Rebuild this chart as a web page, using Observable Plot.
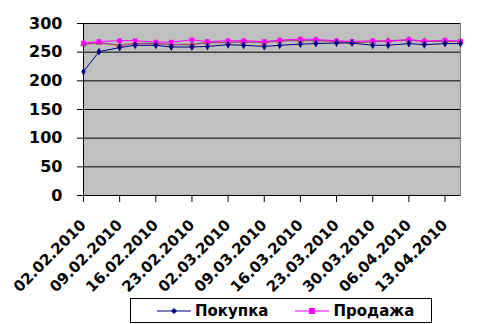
<!DOCTYPE html>
<html><head><meta charset="utf-8">
<script src="https://cdn.jsdelivr.net/npm/d3@7"></script>
<script src="https://cdn.jsdelivr.net/npm/@observablehq/plot@0.6"></script>
<style>
body{margin:0;background:#fff;font-family:"DejaVu Sans",sans-serif;}
#chart svg{display:block;}
#legend{box-sizing:border-box;margin:2px 0 0 130px;width:302px;height:25px;border:1px solid #000;display:flex;align-items:center;font-weight:bold;font-size:15px;color:#000;}
#legend .item{display:flex;align-items:center;}
#legend svg{display:block;margin-right:4px;}
</style></head><body>
<div id="chart"></div>
<div id="legend"></div>
<script>
const dates = ["2010-02-02","2010-02-05","2010-02-09","2010-02-12","2010-02-16","2010-02-19","2010-02-23","2010-02-26",
  "2010-03-02","2010-03-05","2010-03-09","2010-03-12","2010-03-16","2010-03-19","2010-03-23","2010-03-26","2010-03-30",
  "2010-04-02","2010-04-06","2010-04-09","2010-04-13","2010-04-16"];
const pokupka  = [216,251,258,262,262,259,259,260,263,262,260,262,264,265,266,266,262,262,265,263,265,265];
const prodazha = [266,268.5,270,270,267.5,267.5,271.5,268.5,270,270,268.5,271,273,272,270,268.5,270,269,272,269,271,269];
const seriya3  = [264,266.5,262,265,265,263.5,263.5,267,267,268,267,270,270.5,270.5,268.5,267,268,270,271,269,269,269];
const seriesNames = ["Покупка","Продажа"];
const tickLabels = ["02.02.2010","09.02.2010","16.02.2010","23.02.2010","02.03.2010","09.03.2010",
  "16.03.2010","23.03.2010","30.03.2010","06.04.2010","13.04.2010"];
const yTicks = [0,50,100,150,200,250,300];

const parse = d3.utcParse("%Y-%m-%d");
const parseTick = d3.utcParse("%d.%m.%Y");
const fmt = d3.utcFormat("%d.%m.%Y");
const rows = (vals) => dates.map((d,i)=>({date:parse(d), value:vals[i]}));
const dPok = rows(pokupka), dPro = rows(prodazha), d3s = rows(seriya3);
const x0 = parse(dates[0]), x1 = parse(dates[dates.length-1]);
const tickDates = tickLabels.map(parseTick);

const plot = Plot.plot({
  width:492, height:296,
  marginLeft:83, marginRight:32, marginTop:23, marginBottom:101,
  style:{fontFamily:"'DejaVu Sans', sans-serif", fontSize:"16px", fontWeight:"bold", color:"#000", background:"#fff", overflow:"visible"},
  x:{type:"utc", domain:[x0, x1]},
  y:{domain:[0,300]},
  marks:[
    Plot.frame({fill:"#c0c0c0", stroke:"#808080"}),
    Plot.ruleY(yTicks, {stroke:"#000", strokeWidth:1}),
    Plot.ruleX([x0], {stroke:"#000"}),
    Plot.axisY({ticks:yTicks, tickSize:6, label:null, tickFormat:()=>""}),
    Plot.text(yTicks, {x:x0, y:d=>d, text:d=>String(d), textAnchor:"end", dx:-21, fontSize:16, fontWeight:"bold", fill:"#000"}),
    Plot.axisX({ticks:tickDates, tickSize:7, label:null, tickFormat:()=>""}),
    Plot.text(tickDates, {x:d=>d, frameAnchor:"bottom", text:d=>fmt(d), rotate:-45, textAnchor:"end", lineAnchor:"middle", dy:27, fontSize:15, fontWeight:"bold", fill:"#000"}),
    Plot.line(d3s, {x:"date", y:"value", stroke:"#993366", strokeWidth:1.5, strokeOpacity:0.8}),
    Plot.dot(d3s, {x:"date", y:"value", symbol:"triangle", r:2.6, fill:"#993366", fillOpacity:0.8}),
    Plot.line(dPro, {x:"date", y:"value", stroke:"#ff00ff", strokeWidth:1}),
    Plot.dot(dPro, {x:"date", y:"value", symbol:"square", r:2.6, fill:"#ff00ff"}),
    Plot.line(dPok, {x:"date", y:"value", stroke:"#000080", strokeWidth:1}),
    Plot.dot(dPok, {x:"date", y:"value", symbol:"diamond", r:2.4, fill:"#000080"})
  ]
});
document.getElementById("chart").appendChild(plot);

const legendColors = ["#000080","#ff00ff"];
const legendShapes = ["diamond","square"];
const leg = document.getElementById("legend");
seriesNames.forEach((name,i)=>{
  const item = document.createElement("div");
  item.className = "item";
  item.style.marginLeft = i===0 ? "26px" : "27px";
  const marker = legendShapes[i]==="square"
    ? `<rect x="14" y="3" width="6" height="6" fill="${legendColors[i]}"/>`
    : `<path d="M17 3 L20 6 L17 9 L14 6 Z" fill="${legendColors[i]}"/>`;
  item.innerHTML = `<svg width="34" height="12"><line x1="0" y1="6" x2="34" y2="6" stroke="${legendColors[i]}" stroke-width="1"/>${marker}</svg><span>${name}</span>`;
  leg.appendChild(item);
});
</script>
</body></html>
